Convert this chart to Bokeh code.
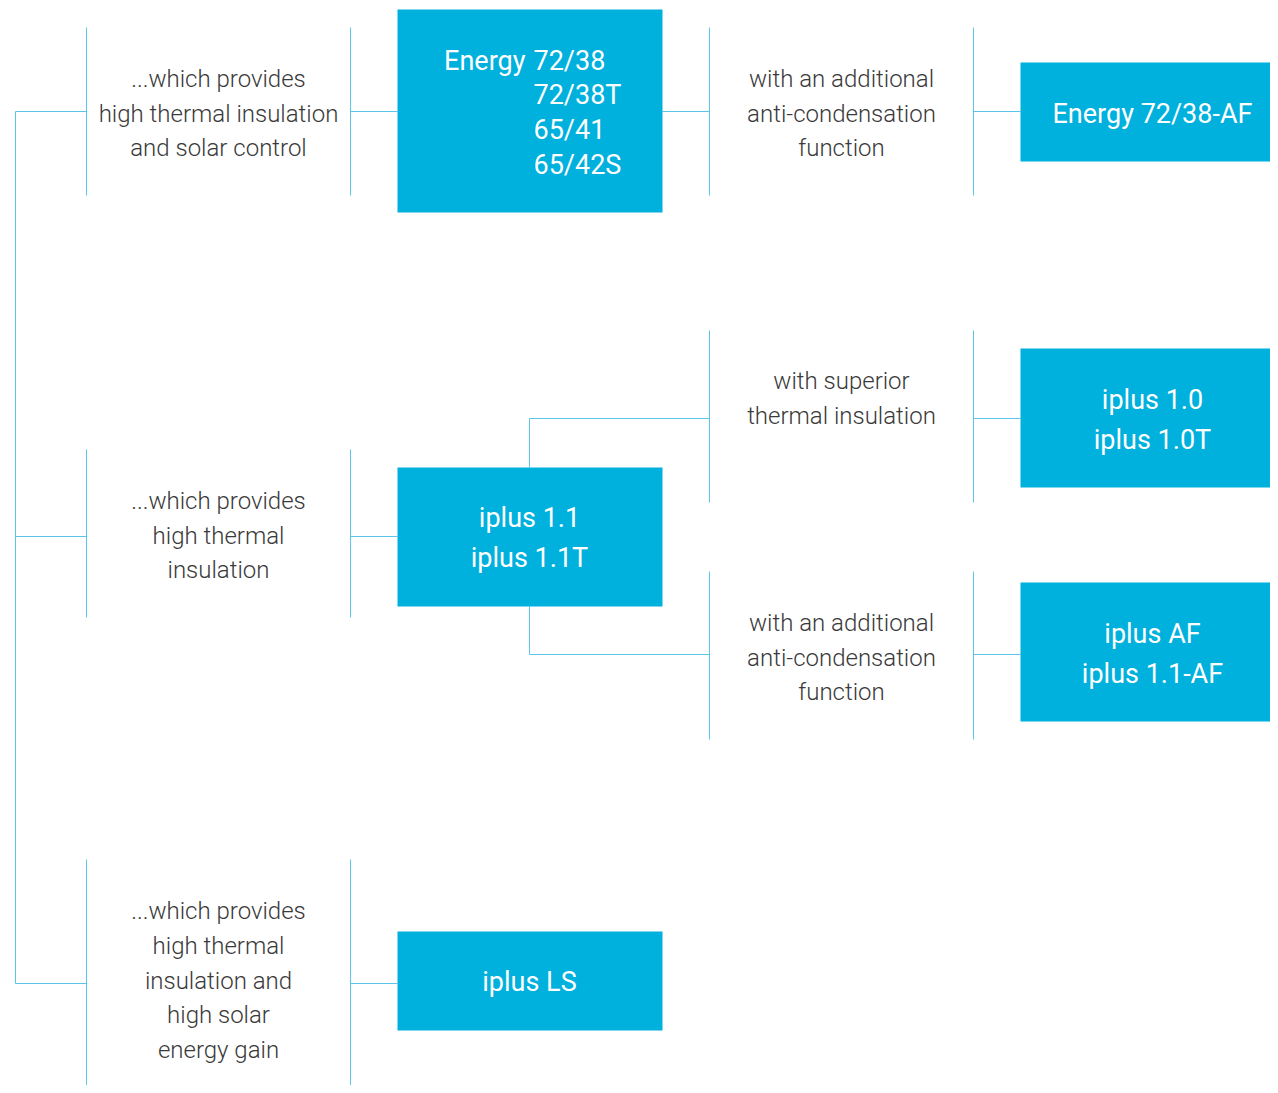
from bokeh.plotting import figure
from bokeh.models import Range1d
from bokeh.core.properties import value
from bokeh.embed import file_html
from bokeh.resources import INLINE

# ---- content ----
left_labels = [
    ["...which provides", "high thermal insulation", "and solar control"],
    ["...which provides", "high thermal", "insulation"],
    ["...which provides", "high thermal", "insulation and", "high solar", "energy gain"],
]
energy_prefix = "Energy"
energy_codes = ["72/38", "72/38T", "65/41", "65/42S"]
mid_products = [None, ["iplus 1.1", "iplus 1.1T"], ["iplus LS"]]
right_labels = [
    ["with an additional", "anti-condensation", "function"],
    ["with superior", "thermal insulation"],
    ["with an additional", "anti-condensation", "function"],
]
right_products = [["Energy 72/38-AF"], ["iplus 1.0", "iplus 1.0T"], ["iplus AF", "iplus 1.1-AF"]]

# ---- layout (page pixel coordinates) ----
trunk_x = 15
row_y = [111, 536, 983]
left_br = [(27, 195), (449, 617), (859, 1092)]
left_text_cy = [113, 535, 980]
lb_x0, lb_x1 = 86, 350
mid_x0, mid_x1 = 397, 662
mid_box_y = [(9, 212), (467, 606), (931, 1030)]
mid_cx = 529
rb_x0, rb_x1 = 709, 973
right_y = [111, 418, 654]
right_br = [(27, 195), (330, 502), (571, 739)]
right_text_cy = [113, 398, 657]
rbox_x0, rbox_x1 = 1020, 1290
right_box_y = [(62, 161), (348, 487), (582, 721)]

LINE = "#5BC6EA"
BOX = "#00B0DD"
GRAY = "#3A3A3A"
FONT_G = "Roboto Light"
FONT_W = "Roboto"
LH = 34.7

W, H = 1270, 1085
p = figure(width=W, height=H, x_range=Range1d(0, W), y_range=Range1d(H, 0),
           output_backend="svg", toolbar_location=None, min_border=0)
p.axis.visible = False
p.grid.visible = False
p.outline_line_color = None
p.background_fill_color = "white"
p.border_fill_color = "white"

# trunk & branches
sx0, sy0, sx1, sy1 = [trunk_x], [row_y[0]], [trunk_x], [row_y[-1]]
for i, y in enumerate(row_y):
    sx0 += [trunk_x, lb_x0, lb_x1, lb_x0, lb_x1]
    sy0 += [y, left_br[i][0], y, y, left_br[i][0]]
    sx1 += [lb_x0, lb_x0, mid_x0, lb_x0, lb_x1]
    sy1 += [y, left_br[i][1], y, y, left_br[i][1]]
# right side
for j, y in enumerate(right_y):
    sx0 += [rb_x0, rb_x1, rb_x1]
    sy0 += [right_br[j][0], right_br[j][0], y]
    sx1 += [rb_x0, rb_x1, rbox_x0]
    sy1 += [right_br[j][1], right_br[j][1], y]
# box 1 -> right row 1
sx0.append(mid_x1); sy0.append(right_y[0]); sx1.append(rb_x0); sy1.append(right_y[0])
p.segment(x0=sx0, y0=sy0, x1=sx1, y1=sy1, line_color=LINE, line_width=1)

# elbows from middle box 2
p.multi_line(xs=[[mid_cx, mid_cx, rb_x0], [mid_cx, mid_cx, rb_x0]],
             ys=[[mid_box_y[1][0], right_y[1], right_y[1]], [mid_box_y[1][1], right_y[2], right_y[2]]],
             line_color=LINE, line_width=1)

# boxes
bl = [mid_x0] * 3 + [rbox_x0] * 3
br = [mid_x1] * 3 + [rbox_x1] * 3
bt = [b[0] for b in mid_box_y] + [b[0] for b in right_box_y]
bb = [b[1] for b in mid_box_y] + [b[1] for b in right_box_y]
p.quad(left=bl, right=br, top=bt, bottom=bb, fill_color=BOX, line_color=None)

def lines_xy(lines, cx, cy, lh):
    n = len(lines)
    ys = [cy + (k - (n - 1) / 2) * lh for k in range(n)]
    return [cx] * n, ys

# gray texts
tx, ty, tt = [], [], []
for i, lab in enumerate(left_labels):
    x, y = lines_xy(lab, (lb_x0 + lb_x1) / 2, left_text_cy[i], LH)
    tx += x; ty += y; tt += lab
for j, lab in enumerate(right_labels):
    x, y = lines_xy(lab, (rb_x0 + rb_x1) / 2, right_text_cy[j], LH)
    tx += x; ty += y; tt += lab
p.text(x=tx, y=ty, text=tt, text_color=GRAY, text_font=value(FONT_G), text_font_size="24px",
       text_align="center", text_baseline="middle")

# white product texts
wx, wy, wt = [], [], []
for i, lab in enumerate(mid_products):
    if lab is None:
        continue
    x, y = lines_xy(lab, mid_cx, (mid_box_y[i][0] + mid_box_y[i][1]) / 2 + 1, 40)
    wx += x; wy += y; wt += lab
for j, lab in enumerate(right_products):
    x, y = lines_xy(lab, 1152, (right_box_y[j][0] + right_box_y[j][1]) / 2 + 2, 40)
    wx += x; wy += y; wt += lab
p.text(x=wx, y=wy, text=wt, text_color="white", text_font=value(FONT_W), text_font_size="27px",
       text_align="center", text_baseline="middle")

# Energy box: prefix right-aligned, codes left-aligned
ey = [60 + k * LH for k in range(len(energy_codes))]
p.text(x=[525], y=[ey[0]], text=[energy_prefix], text_color="white", text_font=value(FONT_W),
       text_font_size="27px", text_align="right", text_baseline="middle")
p.text(x=[533] * len(energy_codes), y=ey, text=energy_codes, text_color="white", text_font=value(FONT_W),
       text_font_size="27px", text_align="left", text_baseline="middle")

open("out.html", "w").write(file_html(p, INLINE))
